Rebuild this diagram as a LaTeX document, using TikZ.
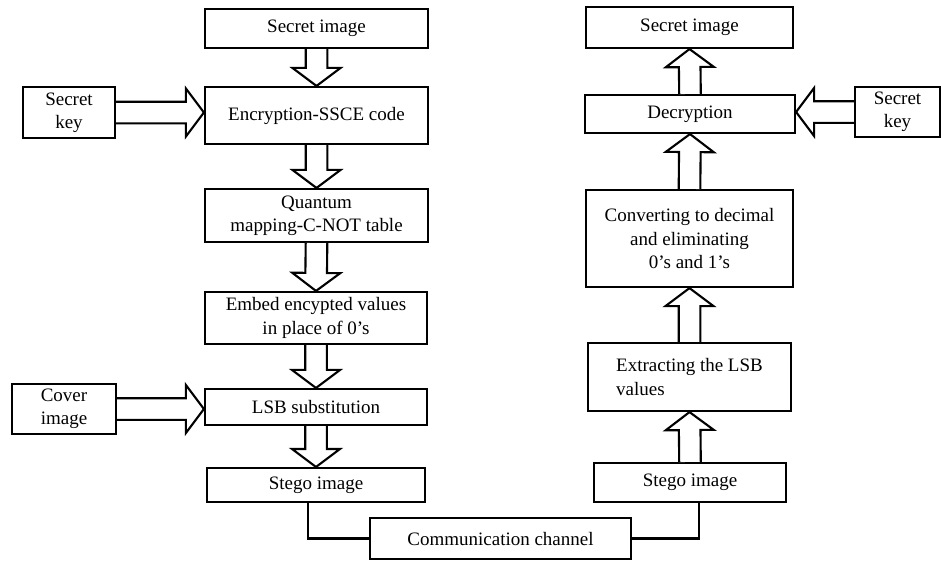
\documentclass[tikz,border=0pt]{standalone}
\usepackage{fontspec}
\setmainfont{Liberation Serif}
\usepackage{tikz}
\usetikzlibrary{calc, positioning}

% block arrow sizes
\def\shaftw{0.27cm}
\def\headw{0.6cm}
\def\headl{0.45cm}

% hollow block arrow from #1 (tail) to #2 (tip)
\newcommand{\fatarrow}[2]{%
  \coordinate (fb) at ($(#2)!\headl!(#1)$);
  \draw[fat] ($(#1)!\shaftw!90:(#2)$) -- ($(fb)!\shaftw!-90:(#1)$) -- ($(fb)!\headw!-90:(#1)$)
    -- (#2) -- ($(fb)!\headw!90:(#1)$) -- ($(fb)!\shaftw!90:(#1)$) -- ($(#1)!\shaftw!-90:(#2)$);}

\begin{document}
\begin{tikzpicture}[
  x=0.025cm, y=-0.025cm,
  font=\fontsize{13.5}{16.5}\selectfont,
  blk/.style={draw, line width=1.5pt, inner sep=0pt, align=center},
  fat/.style={draw, line width=1.5pt, fill=white, line join=miter},
  link/.style={draw, line width=1.5pt}
]
\useasboundingbox (0,0) rectangle (941,561);

% sender side
\node[blk, minimum width=5.575cm, minimum height=0.975cm] (simg)   at (316.5,28.5) {Secret image};
\node[blk, minimum width=5.575cm, minimum height=1.425cm] (enc)    at (316.5,115.5) {Encryption-SSCE code};
\node[blk, minimum width=2.3cm,   minimum height=1.275cm] (skey)   at (69,112.5)   {Secret\\key};
\node[blk, minimum width=5.575cm, minimum height=1.325cm] (qmap)   at (316.5,215.5) {Quantum\\mapping-C-NOT table};
\node[blk, minimum width=5.55cm,  minimum height=1.3cm]   (embed)  at (316,318)    {Embed encypted values\\in place of 0's};
\node[blk, minimum width=5.55cm,  minimum height=0.9cm]   (lsb)    at (316,407)    {LSB substitution};
\node[blk, minimum width=2.6cm,   minimum height=1.25cm, align=left] (cover) at (64,409) {Cover\\image};
\node[blk, minimum width=5.45cm,  minimum height=0.85cm]  (stegoL) at (316,485)    {Stego image};

% channel
\node[blk, minimum width=6.525cm, minimum height=1.025cm] (chan)   at (500.5,538.5) {Communication channel};

% receiver side
\node[blk, minimum width=4.8cm,   minimum height=0.975cm] (stegoR) at (690,482.5)  {Stego image};
\node[blk, minimum width=5.075cm, minimum height=1.7cm, align=left] (extr) at (689.5,377) {Extracting the LSB\\values};
\node[blk, minimum width=5.175cm, minimum height=2.425cm] (conv)   at (689.5,238.5) {Converting to decimal\\and eliminating\\0's and 1's};
\node[blk, minimum width=5.25cm,  minimum height=0.95cm]  (dec)    at (690,114)    {Decryption};
\node[blk, minimum width=5.175cm, minimum height=1.025cm] (simgR)  at (689.5,27.5) {Secret image};
\node[blk, minimum width=2.125cm, minimum height=1.25cm]  (skeyR)  at (897.5,112)  {Secret\\key};

% block arrows
\fatarrow{simg.south}{enc.north}
\fatarrow{enc.south}{qmap.north}
\fatarrow{qmap.south}{embed.north}
\fatarrow{embed.south}{lsb.north}
\fatarrow{lsb.south}{stegoL.north}
\fatarrow{skey.east}{skey.east -| enc.west}
\fatarrow{cover.east}{cover.east -| lsb.west}

\fatarrow{stegoR.north}{extr.south}
\fatarrow{extr.north}{conv.south}
\fatarrow{conv.north}{dec.south}
\fatarrow{dec.north}{simgR.south}
\fatarrow{skeyR.west}{skeyR.west -| dec.east}

% channel links
\draw[link] ([xshift=-0.2cm]stegoL.south) |- (chan.west);
\draw[link] ([xshift=0.22cm]stegoR.south) |- (chan.east);
\end{tikzpicture}
\end{document}
